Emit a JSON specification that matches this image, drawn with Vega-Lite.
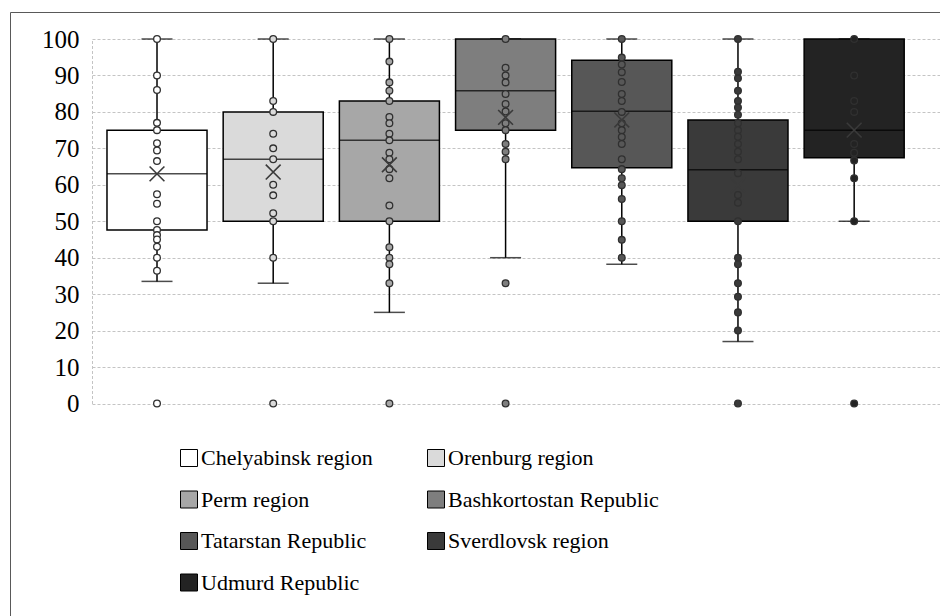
{
  "$schema": "https://vega.github.io/schema/vega-lite/v6.json",
  "width": 930,
  "height": 604,
  "padding": {"left": 10, "top": 12, "right": 0, "bottom": 0},
  "autosize": {"type": "none"},
  "background": "white",
  "config": {
    "view": {"stroke": "#595959", "strokeWidth": 1},
    "font": "Liberation Serif"
  },
  "datasets": {
    "stats": [
      {"region": "Chelyabinsk region", "lower": 33.5, "q1": 47.6, "median": 63, "q3": 75, "upper": 100, "mean": 63},
      {"region": "Orenburg region", "lower": 33, "q1": 50, "median": 67, "q3": 80, "upper": 100, "mean": 63.5},
      {"region": "Perm region", "lower": 25, "q1": 50, "median": 72.2, "q3": 83, "upper": 100, "mean": 65.5},
      {"region": "Bashkortostan Republic", "lower": 40, "q1": 75, "median": 85.8, "q3": 100, "upper": 100, "mean": 78.5},
      {"region": "Tatarstan Republic", "lower": 38.2, "q1": 64.7, "median": 80.2, "q3": 94.2, "upper": 100, "mean": 77.8},
      {"region": "Sverdlovsk region", "lower": 17, "q1": 50, "median": 64.1, "q3": 77.8, "upper": 100, "mean": 59.9},
      {"region": "Udmurd Republic", "lower": 50, "q1": 67.4, "median": 75, "q3": 100, "upper": 100, "mean": 75}
    ],
    "pts": [
      {"region": "Chelyabinsk region", "value": 100},
      {"region": "Chelyabinsk region", "value": 90},
      {"region": "Chelyabinsk region", "value": 86},
      {"region": "Chelyabinsk region", "value": 77},
      {"region": "Chelyabinsk region", "value": 75},
      {"region": "Chelyabinsk region", "value": 71.4},
      {"region": "Chelyabinsk region", "value": 69.4},
      {"region": "Chelyabinsk region", "value": 66.5},
      {"region": "Chelyabinsk region", "value": 57.4},
      {"region": "Chelyabinsk region", "value": 54.8},
      {"region": "Chelyabinsk region", "value": 50},
      {"region": "Chelyabinsk region", "value": 47.6},
      {"region": "Chelyabinsk region", "value": 46.2},
      {"region": "Chelyabinsk region", "value": 45},
      {"region": "Chelyabinsk region", "value": 43},
      {"region": "Chelyabinsk region", "value": 40},
      {"region": "Chelyabinsk region", "value": 36.4},
      {"region": "Chelyabinsk region", "value": 0},
      {"region": "Orenburg region", "value": 100},
      {"region": "Orenburg region", "value": 83},
      {"region": "Orenburg region", "value": 80},
      {"region": "Orenburg region", "value": 74},
      {"region": "Orenburg region", "value": 70},
      {"region": "Orenburg region", "value": 67},
      {"region": "Orenburg region", "value": 60},
      {"region": "Orenburg region", "value": 57.1},
      {"region": "Orenburg region", "value": 52.2},
      {"region": "Orenburg region", "value": 50},
      {"region": "Orenburg region", "value": 40},
      {"region": "Orenburg region", "value": 0},
      {"region": "Perm region", "value": 100},
      {"region": "Perm region", "value": 93.8},
      {"region": "Perm region", "value": 88.1},
      {"region": "Perm region", "value": 85.8},
      {"region": "Perm region", "value": 83},
      {"region": "Perm region", "value": 78.6},
      {"region": "Perm region", "value": 76.9},
      {"region": "Perm region", "value": 74},
      {"region": "Perm region", "value": 72.2},
      {"region": "Perm region", "value": 68.8},
      {"region": "Perm region", "value": 67},
      {"region": "Perm region", "value": 64.3},
      {"region": "Perm region", "value": 61.8},
      {"region": "Perm region", "value": 54.3},
      {"region": "Perm region", "value": 50},
      {"region": "Perm region", "value": 42.9},
      {"region": "Perm region", "value": 40},
      {"region": "Perm region", "value": 38.2},
      {"region": "Perm region", "value": 33},
      {"region": "Perm region", "value": 0},
      {"region": "Bashkortostan Republic", "value": 100},
      {"region": "Bashkortostan Republic", "value": 92.1},
      {"region": "Bashkortostan Republic", "value": 90},
      {"region": "Bashkortostan Republic", "value": 88.1},
      {"region": "Bashkortostan Republic", "value": 84.9},
      {"region": "Bashkortostan Republic", "value": 82.2},
      {"region": "Bashkortostan Republic", "value": 80.1},
      {"region": "Bashkortostan Republic", "value": 76.9},
      {"region": "Bashkortostan Republic", "value": 75},
      {"region": "Bashkortostan Republic", "value": 71.2},
      {"region": "Bashkortostan Republic", "value": 69.1},
      {"region": "Bashkortostan Republic", "value": 67},
      {"region": "Bashkortostan Republic", "value": 33},
      {"region": "Bashkortostan Republic", "value": 0},
      {"region": "Tatarstan Republic", "value": 100},
      {"region": "Tatarstan Republic", "value": 94.9},
      {"region": "Tatarstan Republic", "value": 93},
      {"region": "Tatarstan Republic", "value": 90.9},
      {"region": "Tatarstan Republic", "value": 88.2},
      {"region": "Tatarstan Republic", "value": 84.9},
      {"region": "Tatarstan Republic", "value": 83},
      {"region": "Tatarstan Republic", "value": 80},
      {"region": "Tatarstan Republic", "value": 76.9},
      {"region": "Tatarstan Republic", "value": 75},
      {"region": "Tatarstan Republic", "value": 73.1},
      {"region": "Tatarstan Republic", "value": 71.2},
      {"region": "Tatarstan Republic", "value": 67},
      {"region": "Tatarstan Republic", "value": 64.3},
      {"region": "Tatarstan Republic", "value": 61.8},
      {"region": "Tatarstan Republic", "value": 59.9},
      {"region": "Tatarstan Republic", "value": 56.1},
      {"region": "Tatarstan Republic", "value": 50},
      {"region": "Tatarstan Republic", "value": 44.9},
      {"region": "Tatarstan Republic", "value": 40},
      {"region": "Sverdlovsk region", "value": 100},
      {"region": "Sverdlovsk region", "value": 91},
      {"region": "Sverdlovsk region", "value": 89.2},
      {"region": "Sverdlovsk region", "value": 85.8},
      {"region": "Sverdlovsk region", "value": 83},
      {"region": "Sverdlovsk region", "value": 81.2},
      {"region": "Sverdlovsk region", "value": 79.2},
      {"region": "Sverdlovsk region", "value": 76.9},
      {"region": "Sverdlovsk region", "value": 75},
      {"region": "Sverdlovsk region", "value": 73.2},
      {"region": "Sverdlovsk region", "value": 71.2},
      {"region": "Sverdlovsk region", "value": 69.1},
      {"region": "Sverdlovsk region", "value": 67},
      {"region": "Sverdlovsk region", "value": 63.2},
      {"region": "Sverdlovsk region", "value": 57.2},
      {"region": "Sverdlovsk region", "value": 55.1},
      {"region": "Sverdlovsk region", "value": 50},
      {"region": "Sverdlovsk region", "value": 40},
      {"region": "Sverdlovsk region", "value": 38.2},
      {"region": "Sverdlovsk region", "value": 33},
      {"region": "Sverdlovsk region", "value": 29.3},
      {"region": "Sverdlovsk region", "value": 25},
      {"region": "Sverdlovsk region", "value": 20},
      {"region": "Sverdlovsk region", "value": 0},
      {"region": "Udmurd Republic", "value": 100},
      {"region": "Udmurd Republic", "value": 90},
      {"region": "Udmurd Republic", "value": 83},
      {"region": "Udmurd Republic", "value": 80},
      {"region": "Udmurd Republic", "value": 71.2},
      {"region": "Udmurd Republic", "value": 68.8},
      {"region": "Udmurd Republic", "value": 66.7},
      {"region": "Udmurd Republic", "value": 61.8},
      {"region": "Udmurd Republic", "value": 50},
      {"region": "Udmurd Republic", "value": 0}
    ]
  },
  "encoding": {
    "x": {
      "field": "region",
      "type": "nominal",
      "sort": ["Chelyabinsk region", "Orenburg region", "Perm region", "Bashkortostan Republic", "Tatarstan Republic", "Sverdlovsk region", "Udmurd Republic"],
      "axis": null,
      "scale": {"range": [82, 930], "paddingInner": 0.139, "paddingOuter": 0.2186, "align": 0.295}
    }
  },
  "layer": [
    {
      "data": {"name": "stats"},
      "mark": {"type": "rule", "color": "black", "strokeWidth": 1.5},
      "encoding": {
        "y": {
          "field": "lower",
          "type": "quantitative",
          "scale": {"domain": [0, 100], "range": [391.5, 27], "nice": false, "zero": false},
          "axis": {
            "orient": "left",
            "offset": -82,
            "values": [0, 10, 20, 30, 40, 50, 60, 70, 80, 90, 100],
            "title": null,
            "grid": true,
            "gridColor": "#c4c4c4",
            "gridDash": [3, 2],
            "gridWidth": 1,
            "domain": true,
            "domainColor": "#c4c4c4",
            "domainDash": [3, 2],
            "domainWidth": 1,
            "ticks": false,
            "labelFont": "Liberation Serif",
            "labelFontSize": 25,
            "labelColor": "black",
            "labelPadding": 13
          }
        },
        "y2": {"field": "upper"}
      }
    },
    {
      "data": {"name": "stats"},
      "mark": {"type": "tick", "color": "black", "size": 31, "thickness": 1.5, "orient": "horizontal"},
      "encoding": {"y": {"field": "lower", "type": "quantitative"}}
    },
    {
      "data": {"name": "stats"},
      "mark": {"type": "tick", "color": "black", "size": 31, "thickness": 1.5, "orient": "horizontal"},
      "encoding": {"y": {"field": "upper", "type": "quantitative"}}
    },
    {
      "data": {"name": "stats"},
      "mark": {"type": "bar", "stroke": "black", "strokeWidth": 1.5, "opacity": 1},
      "encoding": {
        "y": {"field": "q1", "type": "quantitative"},
        "y2": {"field": "q3"},
        "color": {
          "field": "region",
          "type": "nominal",
          "sort": ["Chelyabinsk region", "Orenburg region", "Perm region", "Bashkortostan Republic", "Tatarstan Republic", "Sverdlovsk region", "Udmurd Republic"],
          "scale": {
            "domain": ["Chelyabinsk region", "Orenburg region", "Perm region", "Bashkortostan Republic", "Tatarstan Republic", "Sverdlovsk region", "Udmurd Republic"],
            "range": ["#ffffff", "#dadada", "#a7a7a7", "#7e7e7e", "#575757", "#3a3a3a", "#232323"]
          },
          "legend": {
            "orient": "none",
            "direction": "horizontal",
            "legendX": 168,
            "legendY": 435,
            "columns": 2,
            "title": null,
            "symbolType": "square",
            "symbolSize": 289,
            "symbolStrokeColor": "black",
            "symbolStrokeWidth": 1,
            "symbolOpacity": 1,
            "labelFont": "Liberation Serif",
            "labelFontSize": 22,
            "labelColor": "black",
            "labelLimit": 400,
            "labelOffset": 1,
            "columnPadding": 52,
            "rowPadding": 19.5
          }
        }
      }
    },
    {
      "data": {"name": "stats"},
      "mark": {"type": "tick", "color": "black", "size": 100, "thickness": 1.5, "orient": "horizontal"},
      "encoding": {"y": {"field": "median", "type": "quantitative"}}
    },
    {
      "data": {"name": "pts"},
      "mark": {"type": "point", "filled": true, "stroke": "#303030", "strokeWidth": 1.3, "size": 45, "opacity": 1},
      "encoding": {
        "y": {"field": "value", "type": "quantitative"},
        "color": {"field": "region", "type": "nominal", "legend": null}
      }
    },
    {
      "data": {"name": "stats"},
      "mark": {"type": "point", "shape": "M-1,-1L1,1M-1,1L1,-1", "filled": false, "stroke": "#3a3a3a", "strokeWidth": 1.6, "size": 220, "opacity": 1},
      "encoding": {"y": {"field": "mean", "type": "quantitative"}}
    }
  ]
}
